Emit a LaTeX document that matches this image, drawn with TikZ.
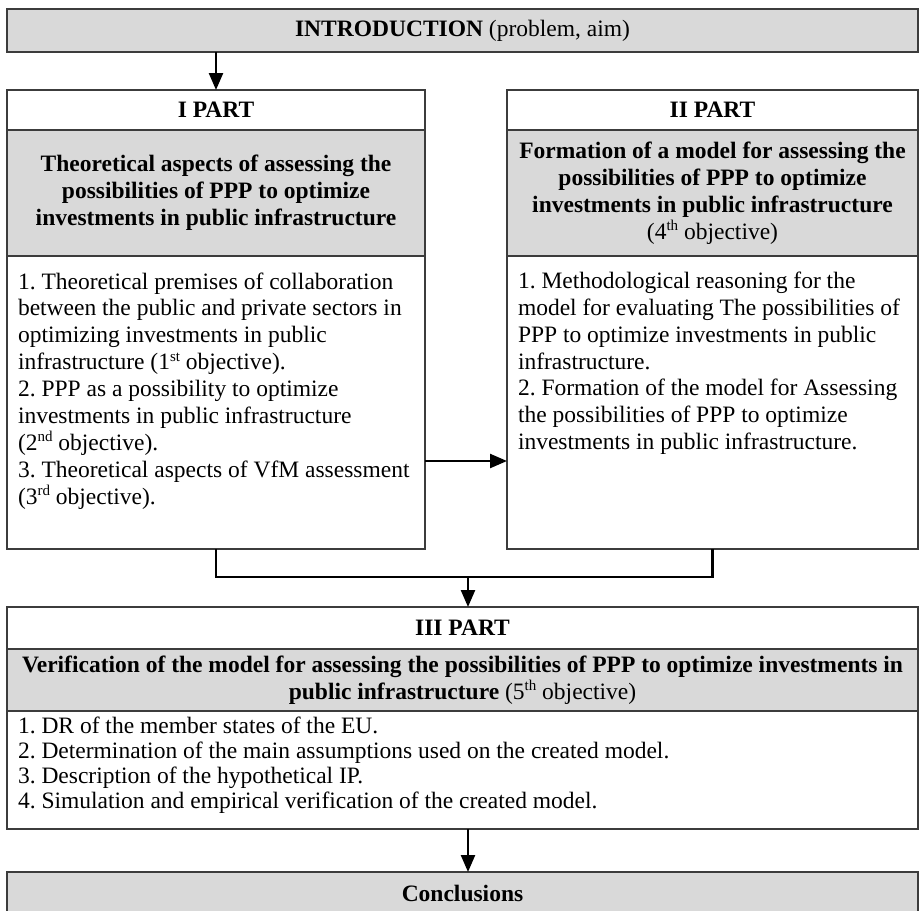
\documentclass[tikz,border=0pt]{standalone}
\usepackage{fontspec}
\setmainfont{Liberation Serif}
\usetikzlibrary{arrows.meta}
\definecolor{boxgray}{RGB}{217,217,217}
\definecolor{edgegray}{RGB}{60,60,60}
% raised ordinal suffix sized like a word-processor superscript
\newcommand\upsc[1]{\raisebox{0.36em}{\fontsize{15}{15}\selectfont #1}}
\frenchspacing

\begin{document}
\begin{tikzpicture}[x=1pt,y=-1pt,
  every node/.style={font=\fontsize{23.5}{26.9}\selectfont, inner sep=0pt, outer sep=0pt},
  frame/.style={draw=edgegray, line width=1.3pt, rectangle},
  shaded/.style={frame, fill=boxgray},
  conn/.style={line width=2.4pt, -{Triangle[length=17pt,width=14pt]}},
  link/.style={line width=2.4pt},
  listtext/.style={anchor=north west, align=left},
]
\useasboundingbox (0,0) rectangle (920,910);
\clip (0,0) rectangle (920,910);

% introduction bar
\node[shaded, minimum width=911pt, minimum height=43pt] (intro) at (462.5,30.5)
  {\textbf{INTRODUCTION} (problem, aim)};

% part I
\node[frame, minimum width=418pt, minimum height=40pt] (p1head) at (216,110) {\textbf{I PART}};
\node[shaded, minimum width=418pt, minimum height=126pt, align=center] (p1aim) at (216,193)
  {\textbf{Theoretical aspects of assessing the}\\
   \textbf{possibilities of PPP to optimize}\\
   \textbf{investments in public infrastructure}};
\node[frame, minimum width=418pt, minimum height=293pt] (p1list) at (216,402.5) {};
\node[listtext] (p1text) at (18,270.2)
  {\strut 1. Theoretical premises of collaboration\\
   between the public and private sectors in\\
   optimizing investments in public\\
   infrastructure (1\upsc{st} objective).\\
   2. PPP as a possibility to optimize\\
   investments in public infrastructure\\
   (2\upsc{nd} objective).\\
   3. Theoretical aspects of VfM assessment\\
   (3\upsc{rd} objective).};

% part II
\node[frame, minimum width=411pt, minimum height=40pt] (p2head) at (712.5,110) {\textbf{II PART}};
\node[shaded, minimum width=411pt, minimum height=126pt, align=center] (p2aim) at (712.5,193)
  {\textbf{Formation of a model for assessing the}\\
   \textbf{possibilities of PPP to optimize}\\
   \textbf{investments in public infrastructure}\\
   (4\upsc{th} objective)};
\node[frame, minimum width=411pt, minimum height=293pt] (p2list) at (712.5,402.5) {};
\node[listtext] (p2text) at (518,269.5)
  {\strut 1. Methodological reasoning for the\\
   model for evaluating The possibilities of\\
   PPP to optimize investments in public\\
   infrastructure.\\
   2. Formation of the model for Assessing\\
   the possibilities of PPP to optimize\\
   investments in public infrastructure.};

% part III
\node[frame, minimum width=911pt, minimum height=42pt] (p3head) at (462.5,628) {\textbf{III PART}};
\node[shaded, minimum width=911pt, minimum height=62pt, align=center] (p3aim) at (462.5,680)
  {\textbf{Verification of the model for assessing the possibilities of PPP to optimize investments in}\\
   \textbf{public infrastructure} (5\upsc{th} objective)};
\node[frame, minimum width=911pt, minimum height=118pt] (p3list) at (462.5,770) {};
\node[listtext, font=\fontsize{23.5}{25}\selectfont] (p3text) at (18,715.5)
  {\strut 1. DR of the member states of the EU.\\
   2. Determination of the main assumptions used on the created model.\\
   3. Description of the hypothetical IP.\\
   4. Simulation and empirical verification of the created model.};

% conclusions bar
\node[shaded, minimum width=911pt, minimum height=42pt] (concl) at (462.5,893) {\textbf{Conclusions}};

% connectors
\coordinate (midarrow) at (466,461);
\coordinate (join) at (468,577);
\draw[conn] (intro.south -| p1head.north) -- (p1head.north);
\draw[conn] (p1list.east |- midarrow) -- (p2list.west |- midarrow);
\draw[link] (p1list.south) -- (p1list.south |- join) -- (p2list.south |- join) -- (p2list.south);
\draw[conn] (join) -- (join |- p3head.north);
\draw[conn] (p3list.south -| join) -- (concl.north -| join);
\end{tikzpicture}
\end{document}
